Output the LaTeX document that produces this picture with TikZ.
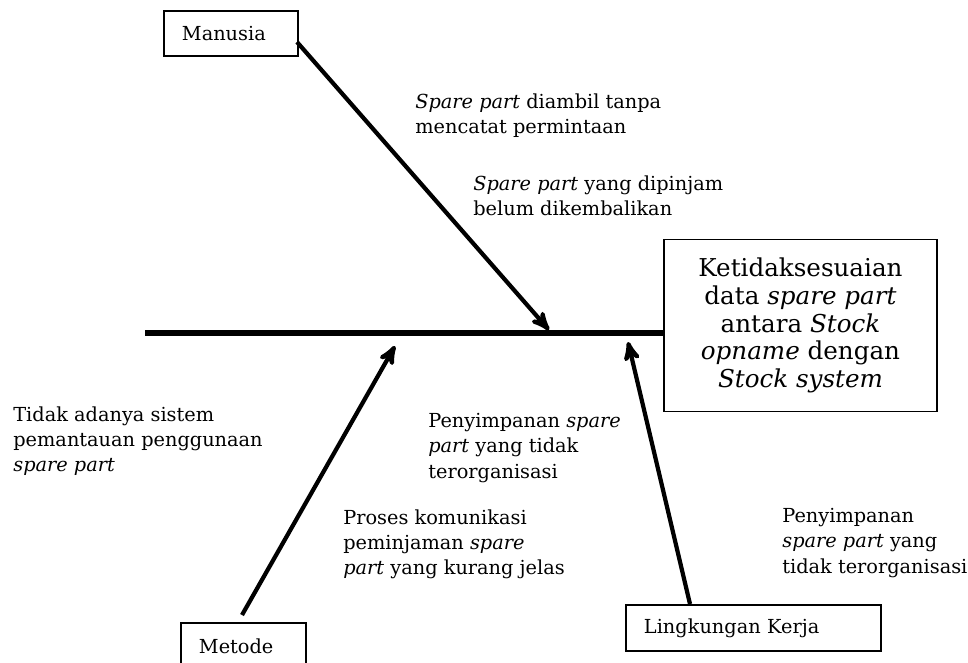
\documentclass[tikz,border=0pt]{standalone}
\usepackage{fontspec}
\setmainfont{DejaVu Serif}
\usetikzlibrary{arrows}
\usetikzlibrary{positioning}

\tikzset{
  box/.style={draw,line width=1.1pt,anchor=north west,align=left,inner xsep=0.36cm,inner ysep=0pt,font=\fontsize{11}{13}\selectfont},
  cause/.style={anchor=north west,align=left,inner sep=0pt,font=\fontsize{11}{14.4}\selectfont},
  bone/.style={line width=2.4pt,-stealth'},
}

\begin{document}
\begin{tikzpicture}[x=0.02cm,y=-0.02cm]
  \clip (0,0) rectangle (968,663);
  % head
  \node[draw,line width=1.1pt,minimum width=5.46cm,minimum height=3.44cm,align=center,font=\fontsize{14}{15.8}\selectfont] (effect) at (800.5,325.5) {Ketidaksesuaian\\data \textit{spare part}\\antara \textit{Stock}\\\textit{opname} dengan\\\textit{Stock system}};

  % categories
  \node[box,text width=1.96cm,minimum height=0.9cm] (manusia) at (163,10) {Manusia};
  \node[box,text width=1.78cm,minimum height=0.94cm] (metode) at (180,622) {Metode};
  \node[box,text width=4.38cm,minimum height=0.92cm] (lingkungan) at (625,604) {Lingkungan Kerja};

  % spine
  \coordinate (tail) at (145,333);
  \draw[line width=3.4pt] (tail) -- (tail -| effect.west);

  % bones
  \coordinate (m0) at (297,42);
  \coordinate (m1) at (549,330);
  \coordinate (t0) at (242,615);
  \coordinate (t1) at (395,346);
  \coordinate (l0) at (690,604);
  \coordinate (l1) at (628,342);
  \draw[bone] (m0) -- (m1);
  \draw[bone] (t0) -- (t1);
  \draw[bone] (l0) -- (l1);

  % causes
  \node[cause] (c1) at (415,93) {\textit{Spare part} diambil tanpa\\mencatat permintaan};
  \node[cause] (c2) at (473,175) {\textit{Spare part} yang dipinjam\\belum dikembalikan};
  \node[cause] (c3) at (13,406) {Tidak adanya sistem\\pemantauan penggunaan\\\textit{spare part}};
  \node[cause] (c4) at (428,413) {Penyimpanan \textit{spare}\\\textit{part} yang tidak\\terorganisasi};
  \node[cause] (c5) at (343,509) {Proses komunikasi\\peminjaman \textit{spare}\\\textit{part} yang kurang jelas};
  \node[cause] (c6) at (782,508) {Penyimpanan\\\textit{spare part} yang\\tidak terorganisasi};
\end{tikzpicture}
\end{document}
